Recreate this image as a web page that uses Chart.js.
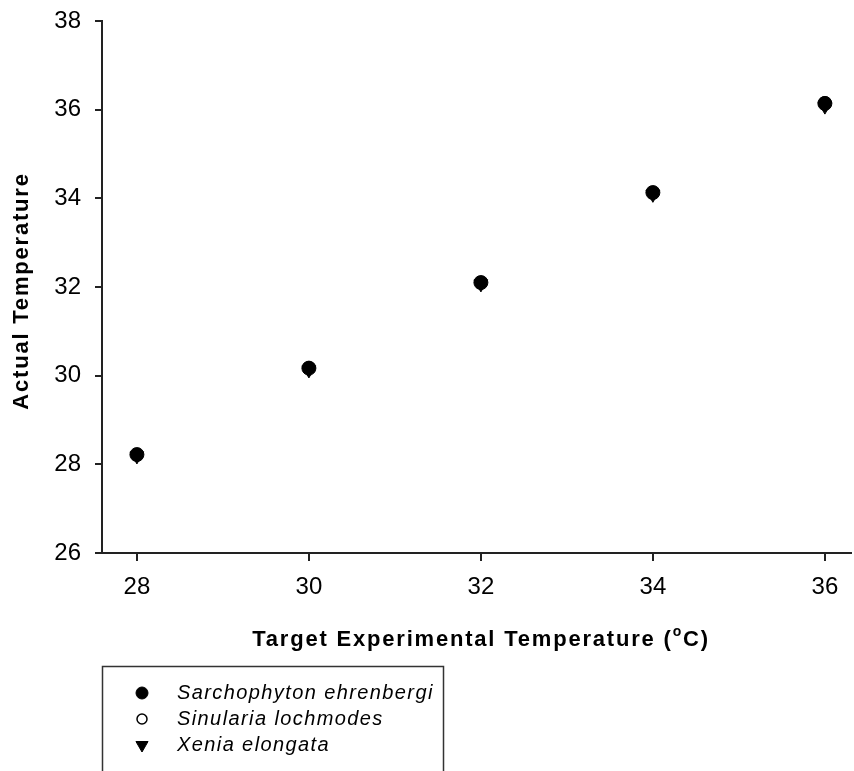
<!DOCTYPE html>
<html>
<head>
<meta charset="utf-8">
<script src="https://cdn.jsdelivr.net/npm/chart.js@4"></script>
<style>
html,body{margin:0;padding:0;background:#fff;}
#wrap{width:854px;height:771px;position:relative;}
</style>
</head>
<body>
<div id="wrap"><canvas id="c" width="854" height="771"></canvas></div>
<script>
// ---- data ----
const targetTemps = [28, 30, 32, 34, 36];
const sarcophyton = [28.22, 30.17, 32.10, 34.13, 36.14];
const sinularia   = [28.21, 30.19, 32.11, 34.12, 36.17];
const xenia       = [28.19, 30.13, 32.07, 34.09, 36.08];
const seriesNames = ['Sarchophyton ehrenbergi', 'Sinularia lochmodes', 'Xenia elongata'];
const xTicks = [28, 30, 32, 34, 36];
const yTicks = [26, 28, 30, 32, 34, 36, 38];
const xTitle = 'Target Experimental Temperature (';
const yTitle = 'Actual Temperature';

function pts(vals){ return targetTemps.map((t,i)=>({x:t, y:vals[i]})); }

const FONT = '"Liberation Sans", Arial, sans-serif';

const overlay = {
  id: 'overlay',
  afterDraw(chart){
    const ctx = chart.ctx;
    const ca = chart.chartArea;
    ctx.save();
    ctx.fillStyle = '#000';
    // y title
    ctx.font = 'bold 22px ' + FONT;
    ctx.letterSpacing = '1.8px';
    ctx.textAlign = 'center';
    ctx.textBaseline = 'middle';
    ctx.save();
    ctx.translate(22, 291);
    ctx.rotate(-Math.PI/2);
    ctx.fillText(yTitle, 0, 0);
    ctx.restore();
    // x title with superscript
    ctx.font = 'bold 22px ' + FONT;
    const w1 = ctx.measureText(xTitle).width;
    ctx.font = 'bold 14px ' + FONT;
    const wo = ctx.measureText('o').width;
    ctx.font = 'bold 22px ' + FONT;
    const w2 = ctx.measureText('C)').width;
    const total = w1 + wo + w2;
    let x0 = 481 - total/2;
    const ty = 640;
    ctx.textAlign = 'left';
    ctx.fillText(xTitle, x0, ty);
    ctx.font = 'bold 14px ' + FONT;
    ctx.fillText('o', x0 + w1, ty - 8);
    ctx.font = 'bold 22px ' + FONT;
    ctx.fillText('C)', x0 + w1 + wo, ty);
    ctx.letterSpacing = '0px';
    // x-axis line extended slightly beyond the plot on both ends (as in original)
    ctx.strokeStyle = '#222';
    ctx.lineWidth = 2;
    ctx.beginPath();
    ctx.moveTo(ca.left - 7, ca.bottom);
    ctx.lineTo(ca.left, ca.bottom);
    ctx.moveTo(ca.right - 1, ca.bottom);
    ctx.lineTo(852, ca.bottom);
    ctx.stroke();
    // legend box
    ctx.strokeStyle = '#333';
    ctx.lineWidth = 1.5;
    ctx.strokeRect(102.5, 666.5, 341, 140);
    const rows = [693, 719, 745];
    const legR = [6, 5, 7];
    chart.data.datasets.forEach((ds, i) => {
      const st = {
        pointStyle: ds.pointStyle,
        rotation: ds.rotation || 0,
        radius: legR[i],
        borderWidth: ds.pointBorderWidth
      };
      ctx.fillStyle = ds.pointBackgroundColor;
      ctx.strokeStyle = ds.pointBorderColor;
      ctx.lineWidth = ds.pointBorderWidth;
      Chart.helpers.drawPoint(ctx, st, 142, rows[i]);
      ctx.fillStyle = '#000';
      ctx.font = 'italic 20px ' + FONT;
      ctx.letterSpacing = '1.4px';
      ctx.textAlign = 'left';
      ctx.textBaseline = 'middle';
      ctx.fillText(ds.label, 177, rows[i]);
      ctx.letterSpacing = '0px';
    });
    ctx.restore();
  }
};

new Chart(document.getElementById('c'), {
  type: 'scatter',
  data: {
    datasets: [
      { label: seriesNames[0], data: pts(sarcophyton), pointStyle: 'circle', pointRadius: 7,
        pointBackgroundColor: '#000', pointBorderColor: '#000', pointBorderWidth: 1 },
      { label: seriesNames[1], data: pts(sinularia), pointStyle: 'circle', pointRadius: 5.5,
        pointBackgroundColor: '#fff', pointBorderColor: '#000', pointBorderWidth: 1.5 },
      { label: seriesNames[2], data: pts(xenia), pointStyle: 'triangle', rotation: 180, pointRadius: 8,
        pointBackgroundColor: '#000', pointBorderColor: '#000', pointBorderWidth: 1 }
    ]
  },
  options: {
    responsive: false,
    animation: false,
    events: [],
    layout: { padding: { top: 21, right: 2, left: 0, bottom: 0 } },
    plugins: { legend: { display: false }, tooltip: { enabled: false } },
    scales: {
      x: {
        type: 'linear', min: 27.594, max: 36.234,
        afterBuildTicks(s){ s.ticks = xTicks.map(v=>({value:v})); },
        afterFit(s){ s.height = 218; },
        grid: { drawOnChartArea: false, color: '#222', tickLength: 8, lineWidth: 2 },
        border: { color: '#222', width: 2 },
        ticks: { color: '#000', font: { size: 24, family: FONT }, padding: 12, maxRotation: 0 }
      },
      y: {
        type: 'linear', min: 26, max: 38,
        afterBuildTicks(s){ s.ticks = yTicks.map(v=>({value:v})); },
        afterFit(s){ s.width = 102; s.paddingTop = 0; s.paddingBottom = 0; },
        grid: { drawOnChartArea: false, color: '#222', tickLength: 7, lineWidth: 2 },
        border: { color: '#222', width: 2 },
        ticks: { color: '#000', font: { size: 24, family: FONT }, padding: 14 }
      }
    }
  },
  plugins: [overlay]
});
</script>
</body>
</html>
